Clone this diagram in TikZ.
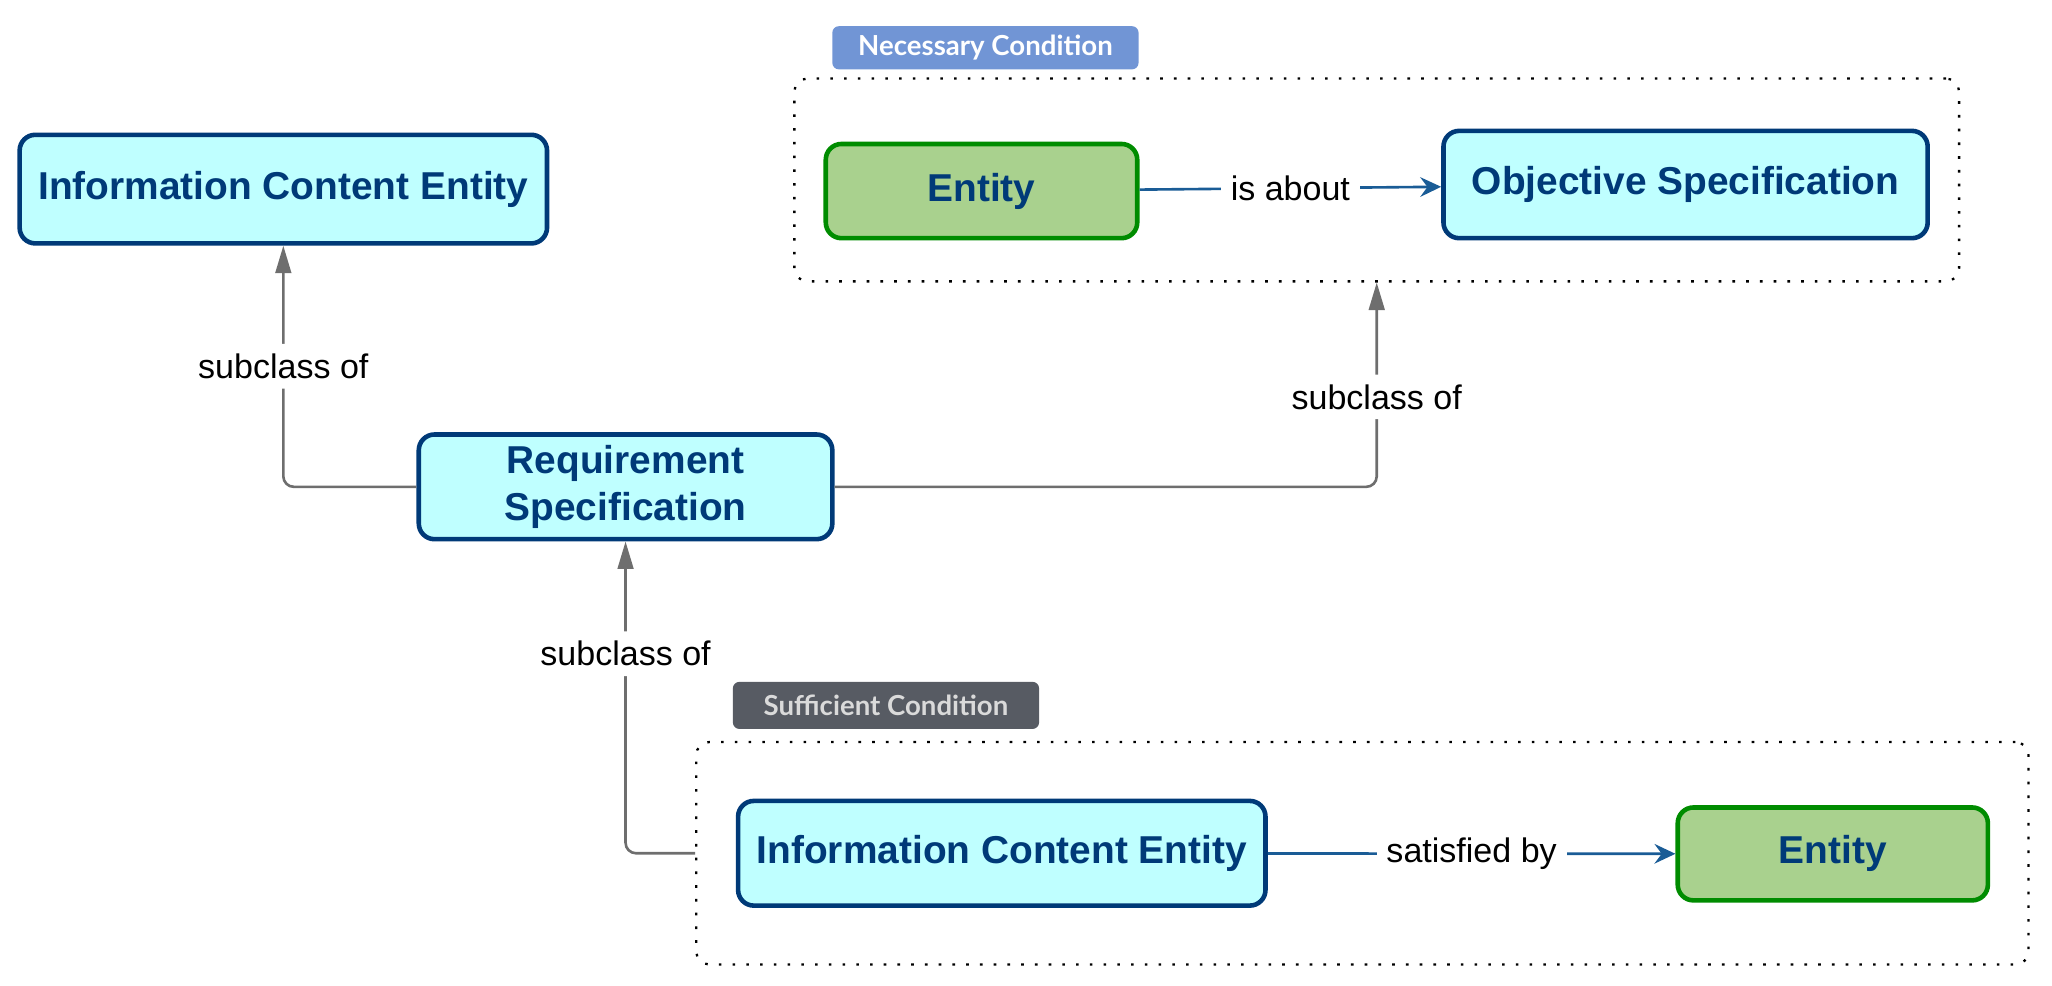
\documentclass[tikz,border=0pt]{standalone}
\usepackage{fontspec}
\setmainfont{Liberation Sans}
\newfontfamily\condfont{Lato}
\usetikzlibrary{arrows.meta}
\newlength\pxl
\setlength\pxl{0.2mm}
\definecolor{clsline}{HTML}{003A78}
\definecolor{clsfill}{HTML}{BFFFFF}
\definecolor{entfill}{HTML}{A9D18E}
\definecolor{entline}{HTML}{008C00}
\definecolor{subgray}{HTML}{6E6E6E}
\definecolor{relblue}{HTML}{1A5C96}
\definecolor{necfill}{HTML}{7195D5}
\definecolor{suffill}{HTML}{575B63}
\definecolor{suftext}{HTML}{DADADA}

\begin{document}
\begin{tikzpicture}[x=\pxl, y={(0,-\pxl)},
    cls/.style={draw=clsline, fill=clsfill, line width=0.7mm, rounded corners=2.4mm,
        text=clsline, font=\bfseries\fontsize{16.9}{20.4}\selectfont, align=center, inner sep=0pt},
    ent/.style={cls, draw=entline, fill=entfill},
    cond/.style={draw, line width=0.35mm, dash pattern=on 0.4mm off 1.7mm, rounded corners=2mm, inner sep=0pt},
    tag/.style={rounded corners=1mm, font=\condfont\bfseries\fontsize{12}{13}\selectfont, inner sep=0pt},
    sub/.style={draw=subgray, line width=0.4mm, rounded corners=1.6mm, -{Triangle[length=4.2mm,width=2.4mm]}},
    rel/.style={draw=relblue, line width=0.4mm, -{Stealth[length=3.2mm,width=3mm,inset=1.1mm]}},
    lbl/.style={fill=white, font=\fontsize{14.8}{16}\selectfont, inner sep=1.5mm}]
    \useasboundingbox (0,0) rectangle (1568,753.4);

    \node[cls, minimum width=403*\pxl, minimum height=83*\pxl] (ice) at (216.5,144.5) {Information Content Entity};
    \node[cls, minimum width=316*\pxl, minimum height=80*\pxl] (req) at (478,372) {Requirement\\Specification};

    \node[cond, minimum width=890*\pxl, minimum height=155*\pxl] (nec) at (1052,137.5) {};
    \node[tag, fill=necfill, text=white, minimum width=234*\pxl, minimum height=33*\pxl] (neclbl) at (753,36.5) {Necessary Condition};
    \node[ent, minimum width=238*\pxl, minimum height=72*\pxl] (nent) at (750,146) {Entity};
    \node[cls, minimum width=370*\pxl, minimum height=82*\pxl] (obj) at (1288,141) {Objective Specification};

    \node[cond, minimum width=1018*\pxl, minimum height=170*\pxl] (suf) at (1041,652) {};
    \node[tag, fill=suffill, text=suftext, minimum width=234*\pxl, minimum height=36*\pxl] (suflbl) at (677,539) {Sufficient Condition};
    \node[cls, minimum width=403*\pxl, minimum height=80*\pxl] (sice) at (765.5,652) {Information Content Entity};
    \node[ent, minimum width=237*\pxl, minimum height=71*\pxl] (sent) at (1400.5,652.5) {Entity};

    \draw[sub] (req.west) -| node[lbl, pos=0.75] {subclass of} (ice.south);
    \draw[sub] (req.east) -| node[lbl, pos=0.72] {subclass of} (nec.south);
    \draw[sub] (suf.west) -| node[lbl, pos=0.82] {subclass of} (req.south);
    \draw[rel] (nent) -- node[lbl] {is about} (obj);
    \draw[rel] (sice) -- node[lbl] {satisfied by} (sent);
\end{tikzpicture}
\end{document}
